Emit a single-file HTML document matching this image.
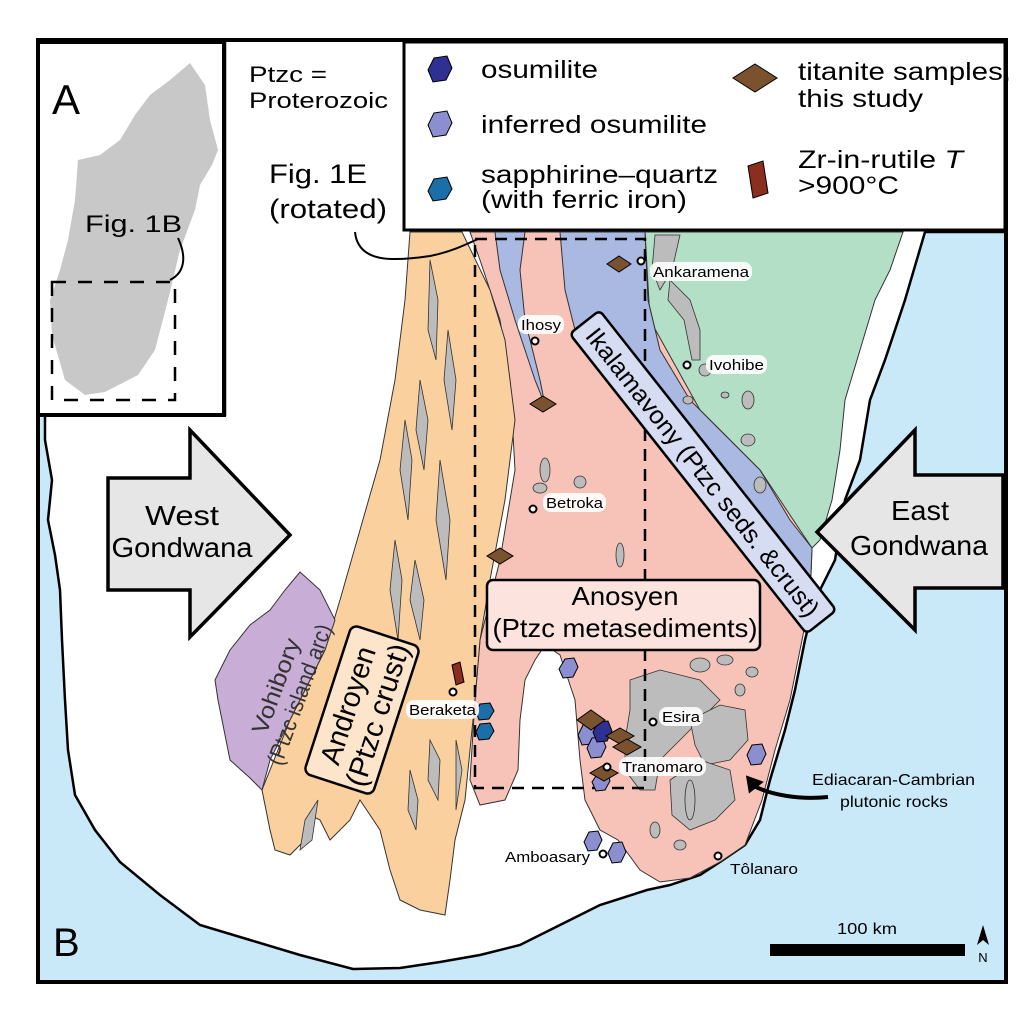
<!DOCTYPE html>
<html><head><meta charset="utf-8"><style>
html,body{margin:0;padding:0;background:#fff;}
svg{display:block;}
text{font-family:"Liberation Sans",Arial,sans-serif;}
</style></head><body>
<svg width="1024" height="1024" viewBox="0 0 1024 1024" xmlns="http://www.w3.org/2000/svg">
<rect width="1024" height="1024" fill="#fff"/>
<rect x="38" y="40" width="968" height="942" fill="#c9e8f8"/>
<path d="M225,40 L1005,40 L1005,232 L925,232 L905,300 L885,360 L870,400 L860,460 L845,500 L835,560 L815,600 L805,640 L795,690 L785,730 L770,780 L760,820 L745,845 L720,862 L700,875 L670,885 L647,890 L600,905 L560,925 L520,945 L480,955 L440,962 L400,968 L353,969 L300,955 L250,940 L200,925 L160,895 L120,862 L95,830 L75,795 L68,750 L65,700 L62,640 L60,590 L55,555 L48,520 L52,480 L45,440 L45,415 L225,415 Z" fill="#fff" stroke="#000" stroke-width="2.5"/>
<path d="M645,232 L903,232 L890,270 L875,300 L860,350 L845,400 L840,450 L832,500 L820,540 L812,548 L790,520 L760,470 L720,430 L690,400 L660,350 L648,300 Z" fill="#b3dfc6" stroke="#333" stroke-width="1"/>
<path d="M470,232 L645,232 L650,320 L700,410 L760,470 L800,530 L812,548 L810,600 L800,650 L790,700 L775,750 L762,800 L745,845 L720,862 L690,878 L660,882 L640,870 L618,840 L600,830 L585,800 L580,760 L575,700 L560,655 L545,645 L535,660 L525,680 L520,720 L518,770 L505,800 L480,805 L470,780 L475,700 L480,640 L500,560 L515,470 L510,380 L500,320 L480,260 Z" fill="#f7c3b8" stroke="#333" stroke-width="1"/>
<path d="M560,232 L645,232 L648,300 L660,350 L690,400 L720,430 L760,470 L790,520 L812,548 L810,600 L795,610 L770,560 L730,510 L680,460 L640,420 L600,370 L575,330 L565,290 Z" fill="#a9b9e1" stroke="#333" stroke-width="1"/>
<path d="M495,232 L525,232 L520,270 L525,320 L540,380 L545,405 L535,380 L515,320 L500,270 Z" fill="#a9b9e1" stroke="#333" stroke-width="1"/>
<path d="M410,232 L462,232 L490,290 L505,340 L515,420 L505,500 L490,580 L480,640 L475,700 L470,750 L465,800 L455,840 L450,880 L445,915 L420,910 L400,900 L390,870 L380,830 L360,800 L350,820 L330,840 L320,820 L310,815 L305,840 L290,855 L275,850 L270,830 L262,790 L290,720 L325,650 L340,600 L360,530 L380,460 L395,380 L405,300 Z" fill="#fbd09f" stroke="#333" stroke-width="1"/>
<path d="M300,572 L320,590 L335,620 L325,650 L310,680 L290,720 L270,760 L262,790 L250,778 L230,760 L218,700 L215,680 L230,650 L250,625 L270,610 L285,590 Z" fill="#c8aed7" stroke="#333" stroke-width="1"/>
<g fill="#bcbcbc" stroke="#333" stroke-width="0.8">
<path d="M430,260 L438,300 L436,360 L428,330 Z"/><path d="M420,380 L428,420 L424,470 L416,430 Z"/><path d="M448,330 L456,380 L452,430 L444,380 Z"/><path d="M405,420 L412,460 L408,520 L400,470 Z"/><path d="M440,460 L450,520 L446,580 L436,520 Z"/><path d="M395,540 L402,580 L398,640 L390,590 Z"/><path d="M415,560 L424,600 L420,640 L410,600 Z"/><path d="M430,740 L440,760 L438,800 L428,780 Z"/><path d="M410,770 L418,800 L416,830 L408,810 Z"/><path d="M305,820 L318,800 L312,840 L300,850 Z"/><path d="M456,740 L462,770 L456,810 Z"/>
<ellipse cx="545" cy="470" rx="5" ry="12"/><ellipse cx="540" cy="488" rx="7" ry="5"/><ellipse cx="580" cy="482" rx="6" ry="6"/><ellipse cx="620" cy="555" rx="4" ry="12"/>
<path d="M630,680 L660,670 L700,680 L720,700 L700,720 L680,740 L660,760 L655,790 L640,790 L625,770 L625,740 L630,710 Z"/>
<path d="M690,720 L720,705 L745,710 L748,740 L730,760 L705,765 L695,745 Z"/>
<path d="M670,780 L700,760 L730,770 L735,800 L715,820 L690,830 L672,815 Z"/>
<ellipse cx="700" cy="665" rx="10" ry="7"/><ellipse cx="725" cy="660" rx="8" ry="5"/><ellipse cx="752" cy="672" rx="6" ry="5"/><ellipse cx="690" cy="800" rx="5" ry="20"/><ellipse cx="655" cy="830" rx="5" ry="8"/><ellipse cx="680" cy="845" rx="6" ry="5"/><ellipse cx="740" cy="690" rx="5" ry="6"/>
<path d="M655,235 L680,235 L672,270 L660,290 L652,270 Z"/><path d="M670,280 L690,300 L700,330 L700,360 L692,360 L684,320 L668,300 Z"/><ellipse cx="748" cy="400" rx="6" ry="9"/><ellipse cx="705" cy="370" rx="6" ry="6"/><ellipse cx="748" cy="440" rx="7" ry="6"/><ellipse cx="760" cy="485" rx="6" ry="8"/><ellipse cx="688" cy="400" rx="5" ry="4"/><ellipse cx="725" cy="395" rx="4" ry="3"/>
</g>
<rect x="475" y="239" width="170" height="549" fill="none" stroke="#000" stroke-width="2.5" stroke-dasharray="12,8"/>
<!-- inset A -->
<rect x="38" y="42" width="186" height="373" fill="#fff" stroke="#000" stroke-width="4"/>
<path d="M190,63 L205,85 L210,120 L218,150 L212,165 L200,185 L195,210 L180,250 L168,300 L155,350 L138,375 L105,392 L85,395 L65,380 L52,335 L50,300 L60,270 L68,240 L75,200 L78,160 L100,155 L120,140 L135,115 L150,95 L170,80 Z" fill="#c8c8c8"/>
<rect x="52" y="282" width="123" height="118" fill="none" stroke="#000" stroke-width="2.5" stroke-dasharray="14,12"/>
<text x="52" y="114" font-size="42">A</text>
<text x="85" y="232" font-size="24" textLength="97" lengthAdjust="spacingAndGlyphs">Fig. 1B</text>
<path d="M178,238 C186,255 186,272 170,280" fill="none" stroke="#000" stroke-width="2"/>
<rect x="38" y="40" width="968" height="942" fill="none" stroke="#000" stroke-width="4"/>
<text x="249" y="82" font-size="22" textLength="78" lengthAdjust="spacingAndGlyphs">Ptzc =</text>
<text x="249" y="108" font-size="22" textLength="139" lengthAdjust="spacingAndGlyphs">Proterozoic</text>
<text x="269" y="183" font-size="27" textLength="98" lengthAdjust="spacingAndGlyphs">Fig. 1E</text>
<text x="269" y="218" font-size="27" textLength="118" lengthAdjust="spacingAndGlyphs">(rotated)</text>
<path d="M355,232 C358,262 390,262 430,256 C450,252 465,245 478,239" fill="none" stroke="#000" stroke-width="2"/>
<!-- legend -->
<rect x="404" y="42" width="601" height="188" fill="#fff" stroke="#000" stroke-width="3"/>
<polygon points="434,58 447,56 452,68 446,80 433,82 428,70" fill="#2e3192" stroke="#000" stroke-width="1"/>
<text x="481" y="78" font-size="25" textLength="117" lengthAdjust="spacingAndGlyphs">osumilite</text>
<polygon points="434,113 447,111 452,123 446,135 433,137 428,125" fill="#8b8fd0" stroke="#000" stroke-width="1"/>
<text x="481" y="133" font-size="25" textLength="226" lengthAdjust="spacingAndGlyphs">inferred osumilite</text>
<polygon points="434,179 447,177 452,189 446,199 433,201 428,191" fill="#1a6fa8" stroke="#000" stroke-width="1"/>
<text x="481" y="183" font-size="25" textLength="237" lengthAdjust="spacingAndGlyphs">sapphirine–quartz</text>
<text x="481" y="208" font-size="25" textLength="206" lengthAdjust="spacingAndGlyphs">(with ferric iron)</text>
<polygon points="755,64 777,78 755,92 733,78" fill="#7b5230" stroke="#000" stroke-width="1"/>
<text x="798" y="80" font-size="25" textLength="213" lengthAdjust="spacingAndGlyphs">titanite samples,</text>
<text x="798" y="107" font-size="25" textLength="125" lengthAdjust="spacingAndGlyphs">this study</text>
<polygon points="748,166 763,161 768,193 753,198" fill="#8b2e1e" stroke="#000" stroke-width="1"/>
<text x="798" y="168" font-size="25" textLength="165" lengthAdjust="spacingAndGlyphs">Zr-in-rutile <tspan font-style="italic">T</tspan></text>
<text x="798" y="194" font-size="25" textLength="101" lengthAdjust="spacingAndGlyphs">&gt;900°C</text>
<!-- arrows -->
<polygon points="108,478 190,478 190,430 290,535 190,637 190,590 108,590" fill="#e6e6e6" stroke="#000" stroke-width="3.5"/>
<text x="182" y="525" font-size="28" text-anchor="middle" textLength="74" lengthAdjust="spacingAndGlyphs">West</text>
<text x="182" y="557" font-size="28" text-anchor="middle" textLength="141" lengthAdjust="spacingAndGlyphs">Gondwana</text>
<polygon points="1003,475 915,475 915,430 817,532 915,630 915,588 1003,588" fill="#e6e6e6" stroke="#000" stroke-width="3.5"/>
<text x="920" y="520" font-size="28" text-anchor="middle" textLength="58" lengthAdjust="spacingAndGlyphs">East</text>
<text x="919" y="555" font-size="28" text-anchor="middle" textLength="138" lengthAdjust="spacingAndGlyphs">Gondwana</text>
<!-- Ikalamavony -->
<g transform="translate(703,472) rotate(51.7)">
<rect x="-191" y="-19" width="382" height="38" rx="5" fill="#d6dcf1" stroke="#000" stroke-width="2.5"/>
<text x="0" y="9" font-size="25" text-anchor="middle" textLength="360" lengthAdjust="spacingAndGlyphs">Ikalamavony (Ptzc seds. &amp;crust)</text>
</g>
<!-- Anosyen -->
<rect x="487" y="580" width="273" height="70" rx="6" fill="#fce3de" stroke="#000" stroke-width="2.5"/>
<text x="625" y="605" font-size="26" text-anchor="middle" textLength="107" lengthAdjust="spacingAndGlyphs">Anosyen</text>
<text x="625" y="637" font-size="26" text-anchor="middle" textLength="265" lengthAdjust="spacingAndGlyphs">(Ptzc metasediments)</text>
<!-- Androyen -->
<g transform="translate(362,710) rotate(-72)">
<rect x="-78" y="-36" width="156" height="72" rx="7" fill="#fde5cb" stroke="#000" stroke-width="2.5"/>
<text x="0" y="-5" font-size="29" text-anchor="middle" textLength="122" lengthAdjust="spacingAndGlyphs">Androyen</text>
<text x="0" y="26" font-size="29" text-anchor="middle" textLength="148" lengthAdjust="spacingAndGlyphs">(Ptzc crust)</text>
</g>
<g transform="translate(287,690) rotate(-70)" fill="#333">
<text x="0" y="-4" font-size="23" text-anchor="middle" textLength="100" lengthAdjust="spacingAndGlyphs">Vohibory</text>
<text x="0" y="21" font-size="23" text-anchor="middle" textLength="148" lengthAdjust="spacingAndGlyphs">(Ptzc island arc)</text>
</g>
<!-- markers -->
<g stroke="#000" stroke-width="1">
<polygon points="619,256 631,264 619,272 607,264" fill="#7b5230"/>
<polygon points="543,396 556,404 543,412 530,404" fill="#7b5230"/>
<polygon points="500,548 513,556 500,564 487,556" fill="#7b5230"/>
<polygon points="452,665 460,662 464,682 456,685" fill="#8b2e1e"/>
<polygon points="480,704 490,703 494,711 489,719 479,720 476,712" fill="#1a6fa8"/>
<polygon points="480,724 490,723 494,731 489,739 479,740 476,732" fill="#1a6fa8"/>
<polygon points="565,659 574,658 578,667 573,677 563,678 559,669" fill="#8b8fd0"/>
<polygon points="583,725 593,724 597,734 592,744 582,745 578,735" fill="#8b8fd0"/>
<polygon points="592,738 602,737 606,747 601,757 591,758 587,748" fill="#8b8fd0"/>
<polygon points="598,722 608,721 612,731 607,741 597,742 593,732" fill="#2e3192"/>
<polygon points="591,710 605,720 591,730 577,720" fill="#7b5230"/>
<polygon points="620,728 634,736 620,744 606,736" fill="#7b5230"/>
<polygon points="627,739 641,747 627,755 613,747" fill="#7b5230"/>
<polygon points="598,773 607,772 610,781 605,790 596,791 592,782" fill="#8b8fd0"/>
<polygon points="604,765 618,773 604,781 590,773" fill="#7b5230"/>
<polygon points="589,832 598,831 602,840 597,850 588,851 584,842" fill="#8b8fd0"/>
<polygon points="613,843 622,842 626,852 621,862 612,863 608,853" fill="#8b8fd0"/>
<polygon points="752,745 762,744 766,754 761,764 751,765 747,755" fill="#8b8fd0"/>
</g>
<!-- towns -->
<g font-size="15">
<g fill="#fff" stroke="none" opacity="0.9">
<rect x="650" y="262" width="102" height="19" rx="8"/>
<rect x="518" y="315" width="46" height="19" rx="8"/>
<rect x="706" y="355" width="61" height="19" rx="8"/>
<rect x="543" y="493" width="63" height="19" rx="8"/>
<rect x="406" y="700" width="73" height="19" rx="8"/>
<rect x="659" y="707" width="44" height="19" rx="8"/>
<rect x="619" y="757" width="87" height="19" rx="8"/>
</g>
<text x="653" y="277" textLength="96" lengthAdjust="spacingAndGlyphs">Ankaramena</text>
<text x="521" y="330" textLength="40" lengthAdjust="spacingAndGlyphs">Ihosy</text>
<text x="709" y="370" textLength="55" lengthAdjust="spacingAndGlyphs">Ivohibe</text>
<text x="546" y="508" textLength="57" lengthAdjust="spacingAndGlyphs">Betroka</text>
<text x="409" y="715" textLength="67" lengthAdjust="spacingAndGlyphs">Beraketa</text>
<text x="662" y="722" textLength="38" lengthAdjust="spacingAndGlyphs">Esira</text>
<text x="622" y="772" textLength="81" lengthAdjust="spacingAndGlyphs">Tranomaro</text>
<text x="505" y="862" textLength="85" lengthAdjust="spacingAndGlyphs">Amboasary</text>
<text x="730" y="874" textLength="68" lengthAdjust="spacingAndGlyphs">Tôlanaro</text>
</g>
<g fill="#fff" stroke="#000" stroke-width="2">
<circle cx="641" cy="261" r="3.5"/><circle cx="535" cy="341" r="3.5"/><circle cx="687" cy="365" r="3.5"/><circle cx="533" cy="509" r="3.5"/><circle cx="453" cy="692" r="3.5"/><circle cx="653" cy="722" r="3.5"/><circle cx="607" cy="767" r="3.5"/><circle cx="603" cy="854" r="3.5"/><circle cx="718" cy="856" r="3.5"/>
</g>
<text x="812" y="785" font-size="16" textLength="163" lengthAdjust="spacingAndGlyphs">Ediacaran-Cambrian</text>
<text x="840" y="807" font-size="16" textLength="108" lengthAdjust="spacingAndGlyphs">plutonic rocks</text>
<path d="M828,797 C800,800 770,795 752,785" fill="none" stroke="#000" stroke-width="4"/>
<polygon points="743,778 762,778 752,794" fill="#000" transform="rotate(20 752 785)"/>
<text x="53" y="956" font-size="40">B</text>
<rect x="770" y="944" width="195" height="12" fill="#000"/>
<text x="837" y="934" font-size="16" textLength="60" lengthAdjust="spacingAndGlyphs">100 km</text>
<polygon points="983,925 989,945 983,940 977,945" fill="#000"/>
<text x="983" y="962" font-size="13" text-anchor="middle">N</text>
</svg>
</body></html>
